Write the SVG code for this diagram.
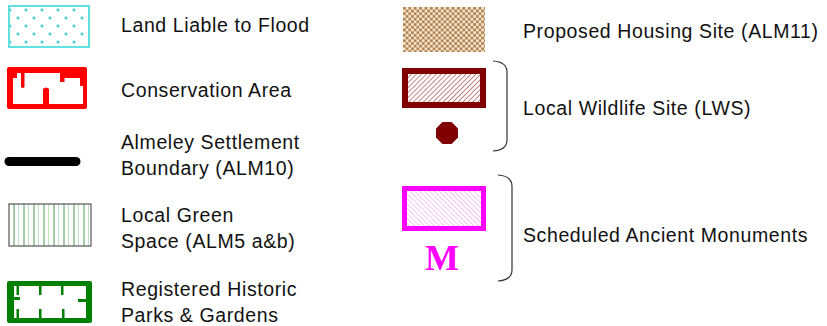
<svg xmlns="http://www.w3.org/2000/svg" width="827" height="326" viewBox="0 0 827 326">
<style>
.t{font-family:"Liberation Sans",Arial,sans-serif;font-size:19.5px;letter-spacing:0.6px;fill:#111}
.br{fill:none;stroke:#333;stroke-width:1.2}
</style>
<defs>
<pattern id="dots" patternUnits="userSpaceOnUse" x="0" y="0" width="16" height="16">
<circle cx="10" cy="10" r="1.5" fill="#40d0d0"/><circle cx="2" cy="2" r="1.5" fill="#40d0d0"/>
</pattern>
<pattern id="vlines" patternUnits="userSpaceOnUse" x="9" y="0" width="10" height="10">
<line x1="5" y1="0" x2="5" y2="10" stroke="#4c9a4c" stroke-width="1"/>
<line x1="10" y1="0" x2="10" y2="10" stroke="#a8d4a8" stroke-width="1.4"/>
</pattern>
<pattern id="check" patternUnits="userSpaceOnUse" x="403" y="7" width="5.4" height="5.4">
<rect width="5.4" height="5.4" fill="#f2e4d2"/>
<rect width="2.7" height="2.7" fill="#b5844f"/><rect x="2.7" y="2.7" width="2.7" height="2.7" fill="#b5844f"/>
</pattern>
<pattern id="hatchR" patternUnits="userSpaceOnUse" width="3.5" height="3.5" patternTransform="rotate(45)">
<rect width="3.5" height="3.5" fill="#fff"/><line x1="0" y1="0" x2="0" y2="3.5" stroke="#a03838" stroke-width="1.2"/>
</pattern>
<pattern id="hatchM" patternUnits="userSpaceOnUse" width="3.5" height="3.5" patternTransform="rotate(-45)">
<rect width="3.5" height="3.5" fill="#fff"/><line x1="0" y1="0" x2="0" y2="3.5" stroke="#f0a0f0" stroke-width="1.2"/>
</pattern>
</defs>

<g id="flood">
<rect x="9" y="6" width="80" height="41" fill="url(#dots)" stroke="#60e0e0" stroke-width="2"/>
<text class="t" x="121" y="32">Land Liable to Flood</text>
</g>

<g id="conservation">
<rect x="7" y="67" width="80" height="42" rx="2" fill="#ff0000"/>
<rect x="13" y="73" width="70" height="31" fill="#fff"/>
<rect x="13" y="73" width="4" height="5" fill="#ff0000"/>
<path d="M21,73 H24.5 V87 Q22.75,89 21,87 Z" fill="#ff0000"/>
<path d="M43,104 V89 Q46,86 49,89 V104 Z" fill="#ff0000"/>
<rect x="60" y="73" width="4.5" height="9" fill="#ff0000"/>
<rect x="64" y="73" width="19" height="5" fill="#ff0000"/>
<rect x="80" y="73" width="3" height="13" fill="#ff0000"/>
<text class="t" x="121" y="97">Conservation Area</text>
</g>

<g id="settlement">
<line x1="9" y1="161.5" x2="76" y2="161.5" stroke="#000" stroke-width="9" stroke-linecap="round"/>
<text class="t" x="121" y="149">Almeley Settlement</text>
<text class="t" x="121" y="175">Boundary (ALM10)</text>
</g>

<g id="green">
<rect x="9" y="204" width="82" height="42" fill="url(#vlines)" stroke="#555" stroke-width="1.2"/>
<text class="t" x="121" y="222">Local Green</text>
<text class="t" x="121" y="248">Space (ALM5 a&amp;b)</text>
</g>

<g id="parks">
<rect x="7" y="281" width="85" height="42" rx="2" fill="#008000"/>
<rect x="14" y="286" width="72" height="32" fill="#fff"/>
<rect x="16.5" y="286" width="2.5" height="9" fill="#008000"/>
<rect x="39" y="286" width="2.5" height="9" fill="#008000"/>
<rect x="61" y="286" width="2.5" height="9" fill="#008000"/>
<rect x="16.5" y="309" width="2.5" height="9" fill="#008000"/>
<rect x="39" y="309" width="2.5" height="9" fill="#008000"/>
<rect x="62" y="309" width="2.5" height="9" fill="#008000"/>
<rect x="14" y="297" width="6" height="3" fill="#008000"/>
<rect x="78" y="299" width="8" height="3" fill="#008000"/>
<text class="t" x="121" y="296">Registered Historic</text>
<text class="t" x="121" y="322">Parks &amp; Gardens</text>
</g>

<g id="housing">
<rect x="403" y="7" width="82" height="45" fill="url(#check)"/>
<text class="t" x="523" y="38">Proposed Housing Site (ALM11)</text>
</g>

<g id="lws">
<rect x="402" y="68" width="84" height="40" fill="#800000"/>
<rect x="408" y="74" width="72" height="28" fill="url(#hatchR)"/>
<polygon points="442.4,122 451.6,122 458,128.4 458,137.6 451.6,144 442.4,144 436,137.6 436,128.4" fill="#800000"/>
<text class="t" x="523" y="115">Local Wildlife Site (LWS)</text>
</g>

<g id="sam">
<rect x="402" y="186" width="84" height="45" fill="#ff00ff"/>
<rect x="407" y="191" width="74" height="35" fill="url(#hatchM)"/>
<text x="442" y="270" text-anchor="middle" font-family="'Liberation Serif','Times New Roman',serif" font-size="36" font-weight="bold" fill="#ff00ff">M</text>
<text class="t" x="523" y="242">Scheduled Ancient Monuments</text>
</g>

<g id="connectors">
<path class="br" d="M493,61 Q507,62 507,72 L507,140 Q507,150 493,151"/>
<path class="br" d="M498,175 Q512,176 512,186 L512,270 Q512,280 498,281"/>
</g>
</svg>
